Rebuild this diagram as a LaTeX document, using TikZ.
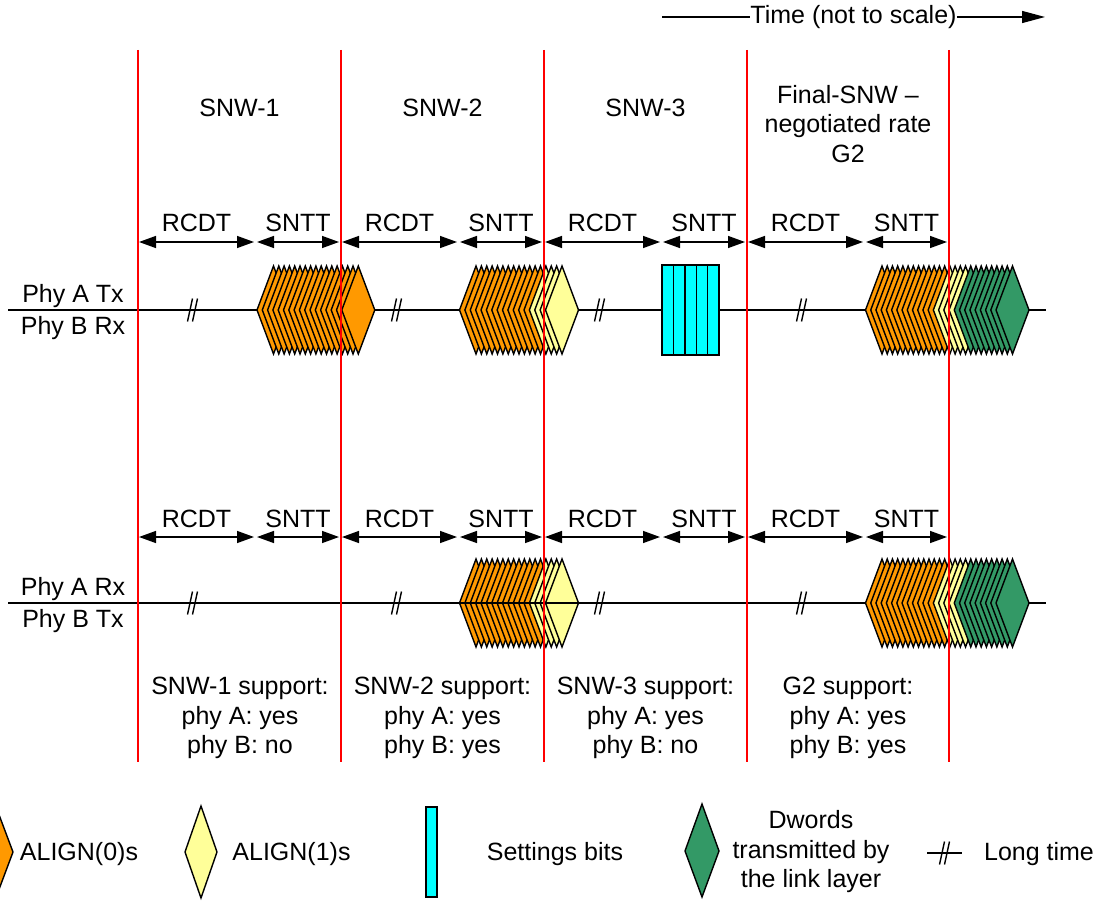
\documentclass[tikz,border=0pt]{standalone}
\usepackage{fontspec}
\setmainfont{Liberation Sans}
\usetikzlibrary{arrows.meta}
\definecolor{orng}{HTML}{FF9900}
\definecolor{ylw}{HTML}{FFFF99}
\definecolor{grn}{HTML}{339966}
\definecolor{cyn}{HTML}{00FFFF}
\definecolor{redl}{HTML}{FF0000}
\newcommand\dmd[3]{%
  \filldraw[shapeline, fill=#3] (#1-16.5,#2) -- (#1,#2-44) -- (#1+16.5,#2) -- (#1,#2+44) -- cycle;}
\newcommand\slashes[2]{%
  \draw[slashline] (#1-5.5,#2+11.5) -- (#1-0.5,#2-11.5);
  \draw[slashline] (#1-0.5,#2+11.5) -- (#1+4.5,#2-11.5);}
\begin{document}
\begin{tikzpicture}[x=1pt,y=-1pt,
  font=\fontsize{25}{29.5}\selectfont,
  shapeline/.style={line width=1.4pt, line join=miter},
  slashline/.style={line width=1.4pt},
  redline/.style={draw=redl, line width=1.8pt},
  sig/.style={line width=1.5pt},
  dbl/.style={line width=1.4pt, {Triangle[length=17pt,width=12pt]}-{Triangle[length=17pt,width=12pt]}},
  lbl/.style={anchor=base, inner sep=0pt}]
\useasboundingbox (0,0) rectangle (1099,901);

% time arrow
\node[inner sep=0pt] (time) at (853.5,17) {Time (not to scale)};
\coordinate (tstart) at (662,17);
\coordinate (tend) at (1045,17);
\draw[line width=1.3pt] (tstart) -- (time.west);
\draw[line width=1.3pt, -{Triangle[length=23pt,width=12pt]}] (time.east) -- (tend);

% section titles
\node[lbl] (ttl1) at (239.5,117) {SNW-1};
\node[lbl] (ttl2) at (442.5,117) {SNW-2};
\node[lbl] (ttl3) at (645.5,117) {SNW-3};
\node[align=center, inner sep=0pt] (ttl4) at (848,124) {Final-SNW –\\negotiated rate\\G2};

% RCDT / SNTT arrows
\foreach \r/\n [count=\i] in {138/341, 341/544, 544/747, 747/949}{
  \foreach \yy/\row in {242/u, 537/l}{
    \coordinate (ra\row\i) at (\r+1,\yy);
    \coordinate (rb\row\i) at (\r+116,\yy);
    \coordinate (sa\row\i) at (\r+119,\yy);
    \coordinate (sb\row\i) at (\n-2,\yy);
    \draw[dbl] (ra\row\i) -- node[midway, lbl, yshift=10pt] {RCDT} (rb\row\i);
    \draw[dbl] (sa\row\i) -- node[midway, lbl, yshift=10pt] {SNTT} (sb\row\i);
  }
}

% line labels
\node[lbl] (pat) at (73,302) {Phy A Tx};
\node[lbl] (pbr) at (73,334) {Phy B Rx};
\node[lbl] (par) at (73,595) {Phy A Rx};
\node[lbl] (pbt) at (73,627) {Phy B Tx};

% upper signal line
\coordinate (ul0) at (8,310);
\coordinate (ul1) at (1046,310);
\draw[sig] (ul0) -- (ul1);

% upper stacks
\foreach \k in {0,...,16}{\dmd{273.5+5.3*\k}{310}{orng}}
\foreach \k in {0,...,12}{\dmd{476+5.375*\k}{310}{orng}}
\foreach \k in {13,...,16}{\dmd{476+5.375*\k}{310}{ylw}}
\foreach \k in {0,...,4}{\filldraw[shapeline, fill=cyn] (662+11.4*\k,265) rectangle ++(11.4,90);}
\foreach \k in {0,...,12}{\dmd{882+5.22*\k}{310}{orng}}
\foreach \k in {13,...,16}{\dmd{882+5.22*\k}{310}{ylw}}
\foreach \k in {17,...,25}{\dmd{882+5.22*\k}{310}{grn}}
\foreach \x in {193,397,600,802}{\slashes{\x}{310}}

% lower row
\foreach \k in {0,...,12}{\dmd{476+5.375*\k}{603}{orng}}
\foreach \k in {13,...,16}{\dmd{476+5.375*\k}{603}{ylw}}
\coordinate (ll0) at (8,603);
\coordinate (ll1) at (1046,603);
\draw[sig] (ll0) -- (ll1);
\foreach \k in {0,...,12}{\dmd{882+5.22*\k}{603}{orng}}
\foreach \k in {13,...,16}{\dmd{882+5.22*\k}{603}{ylw}}
\foreach \k in {17,...,25}{\dmd{882+5.22*\k}{603}{grn}}
\foreach \x in {193,397,600,802}{\slashes{\x}{603}}

% support texts
\node[align=center, inner sep=0pt] (sup1) at (240,718) {SNW-1 support:\\phy A: yes\\phy B: no};
\node[align=center, inner sep=0pt] (sup2) at (442.5,718) {SNW-2 support:\\phy A: yes\\phy B: yes};
\node[align=center, inner sep=0pt] (sup3) at (645.5,718) {SNW-3 support:\\phy A: yes\\phy B: no};
\node[align=center, inner sep=0pt] (sup4) at (848,718) {G2 support:\\phy A: yes\\phy B: yes};

% red section lines
\foreach \x [count=\i] in {138,341,544,747,949}{
  \coordinate (rt\i) at (\x,50);
  \coordinate (rbt\i) at (\x,762);
  \draw[redline] (rt\i) -- (rbt\i);
}

% legend
\dmd{-3.5}{852}{orng}
\node[lbl] (lg0) at (79,860.5) {ALIGN(0)s};
\filldraw[shapeline, fill=ylw] (185,852) -- (201,806) -- (217,852) -- (201,898) -- cycle;
\node[lbl] (lg1) at (291.5,860.5) {ALIGN(1)s};
\filldraw[shapeline, fill=cyn] (426,807) rectangle (437,897);
\node[lbl] (lg2) at (555,860.5) {Settings bits};
\filldraw[shapeline, fill=grn] (685,851) -- (702,804) -- (719,851) -- (702,897) -- cycle;
\node[align=center, inner sep=0pt] (lg3) at (811,852) {Dwords\\transmitted by\\the link layer};
\coordinate (lt0) at (927,853);
\coordinate (lt1) at (962,853);
\draw[slashline] (lt0) -- (lt1);
\slashes{945}{853}
\node[lbl] (lg4) at (1039,860.5) {Long time};
\end{tikzpicture}
\end{document}
